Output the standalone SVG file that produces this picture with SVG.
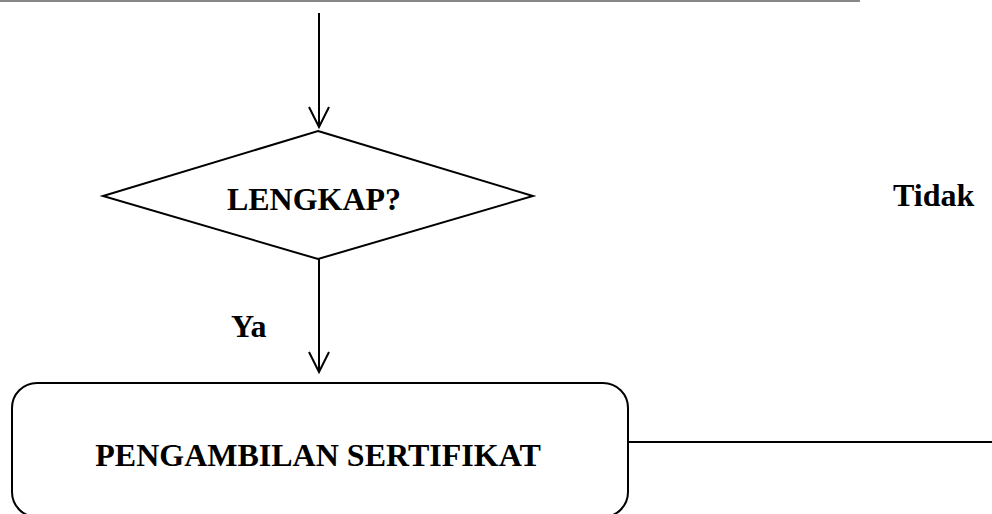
<svg xmlns="http://www.w3.org/2000/svg" width="992" height="514" viewBox="0 0 992 514">
<style>
.shape{fill:#fff;stroke:#000;stroke-width:2}
.conn{fill:none;stroke:#000;stroke-width:2}
.lbl{font-family:"Liberation Serif","Times New Roman",serif;font-weight:bold;font-size:32px;fill:#000}
</style>
<rect width="992" height="514" fill="#fff"/>
<line x1="0" y1="1" x2="860" y2="1" stroke="#888" stroke-width="2"/>
<g id="connectors">
<line class="conn" x1="319" y1="13" x2="319" y2="127"/>
<path class="conn" d="M309,107 L319,127 L329,107"/>
<line class="conn" x1="319" y1="259" x2="319" y2="372"/>
<path class="conn" d="M309,352 L319,372 L329,352"/>
<line class="conn" x1="628" y1="442" x2="992" y2="442"/>
</g>
<g id="decision">
<polygon class="shape" points="318,131 533,196 318,259 103,196"/>
<text class="lbl" x="314" y="210" text-anchor="middle">LENGKAP?</text>
</g>
<g id="process">
<rect class="shape" x="12" y="383" width="616" height="134" rx="25" ry="25"/>
<text class="lbl" x="318" y="466" text-anchor="middle">PENGAMBILAN SERTIFIKAT</text>
</g>
<g id="labels">
<text class="lbl" x="231" y="337">Ya</text>
<text class="lbl" x="893" y="206">Tidak</text>
</g>
</svg>
